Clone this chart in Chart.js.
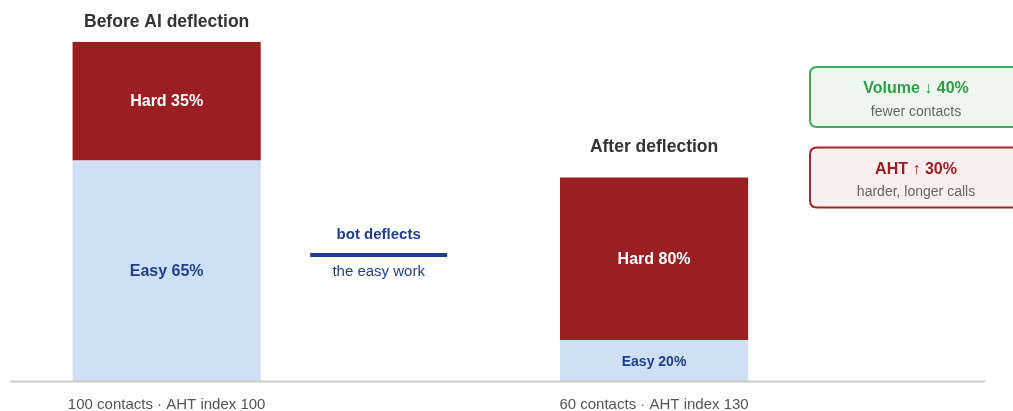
<!DOCTYPE html>
<html>
<head>
<meta charset="utf-8">
<script src="https://cdn.jsdelivr.net/npm/chart.js@4/dist/chart.umd.min.js"></script>
<style>
  html, body { margin: 0; padding: 0; background: #ffffff; }
  #wrap { width: 1013px; height: 411px; position: relative; }
</style>
</head>
<body>
<div id="wrap"><canvas id="chart"></canvas></div>
<script>
// Contact mix before and after the bot takes over the easy work
const stages = ['Before AI deflection', '', 'After deflection'];
const stageNotes = ['100 contacts · AHT index 100', '', '60 contacts · AHT index 130'];
const easyContacts = [65, null, 12];
const hardContacts = [35, null, 48];
const segmentNames = ['Easy', 'Hard'];

const bridgeTitle = 'bot deflects';
const bridgeNote = 'the easy work';
const callouts = [
  { title: 'Volume ↓ 40%', note: 'fewer contacts', kind: 'good' },
  { title: 'AHT ↑ 30%', note: 'harder, longer calls', kind: 'bad' }
];

const FONT = '"Liberation Sans", Arial, Helvetica, sans-serif';
const COLORS = {
  easy: '#cfe0f4',
  hard: '#9b1e23',
  easyText: '#1f3f8c',
  hardText: '#ffffff',
  title: '#333333',
  note: '#555555',
  axis: '#cccccc',
  good: { text: '#2e9e45', border: '#3fae52', fill: '#eef7ef' },
  bad: { text: '#9b1e23', border: '#a3272c', fill: '#fbeeee' },
  sub: '#666666'
};

function roundRect(ctx, x, y, w, h, r) {
  ctx.beginPath();
  ctx.moveTo(x + r, y);
  ctx.lineTo(x + w - r, y);
  ctx.quadraticCurveTo(x + w, y, x + w, y + r);
  ctx.lineTo(x + w, y + h - r);
  ctx.quadraticCurveTo(x + w, y + h, x + w - r, y + h);
  ctx.lineTo(x + r, y + h);
  ctx.quadraticCurveTo(x, y + h, x, y + h - r);
  ctx.lineTo(x, y + r);
  ctx.quadraticCurveTo(x, y, x + r, y);
  ctx.closePath();
}

// Segment labels, stage titles, baseline, bridge text and callout boxes
const decorations = {
  id: 'decorations',
  afterDatasetsDraw(chart) {
    const ctx = chart.ctx;
    const xs = chart.scales.x;
    const ys = chart.scales.y;
    const area = chart.chartArea;
    ctx.save();
    ctx.textAlign = 'center';
    ctx.textBaseline = 'middle';

    // labels inside each stacked segment, share of the bar total
    chart.data.datasets.forEach((ds, di) => {
      const meta = chart.getDatasetMeta(di);
      meta.data.forEach((bar, i) => {
        const v = ds.data[i];
        if (v == null) return;
        const total = (easyContacts[i] || 0) + (hardContacts[i] || 0);
        const share = Math.round(v / total * 100);
        const h = Math.abs(bar.base - bar.y);
        const size = h < 60 ? 14 : 16;
        ctx.font = 'bold ' + size + 'px ' + FONT;
        ctx.fillStyle = di === 0 ? COLORS.easyText : COLORS.hardText;
        ctx.fillText(segmentNames[di] + ' ' + share + '%', bar.x, (bar.y + bar.base) / 2 + 1);
      });
    });

    // stage titles above bars and notes under the baseline
    const topMeta = chart.getDatasetMeta(1);
    const titleGap = [20, 30];
    let t = 0;
    stages.forEach((name, i) => {
      if (!name) return;
      const bar = topMeta.data[i];
      ctx.font = 'bold 17.5px ' + FONT;
      ctx.fillStyle = COLORS.title;
      ctx.fillText(name, bar.x, bar.y - titleGap[t++]);
      ctx.font = '15px ' + FONT;
      ctx.fillStyle = COLORS.note;
      ctx.fillText(stageNotes[i], bar.x, area.bottom + 24);
    });

    // baseline
    ctx.strokeStyle = COLORS.axis;
    ctx.lineWidth = 2;
    ctx.beginPath();
    ctx.moveTo(10, area.bottom + 0.5);
    ctx.lineTo(985, area.bottom + 0.5);
    ctx.stroke();

    // bridge between the two bars
    const bx = xs.getPixelForValue(0.87);
    const by = ys.getPixelForValue(37.1);
    ctx.strokeStyle = COLORS.easyText;
    ctx.lineWidth = 4;
    ctx.beginPath();
    ctx.moveTo(bx - 68.5, by);
    ctx.lineTo(bx + 68.5, by);
    ctx.stroke();
    ctx.fillStyle = COLORS.easyText;
    ctx.font = 'bold 15px ' + FONT;
    ctx.fillText(bridgeTitle, bx, by - 20);
    ctx.font = '15px ' + FONT;
    ctx.fillText(bridgeNote, bx, by + 17);

    // callout boxes on the right
    callouts.forEach((c, k) => {
      const pal = COLORS[c.kind];
      const x = 810, y = 67 + k * 80.5, w = 212, h = 60;
      roundRect(ctx, x, y, w, h, 7);
      ctx.fillStyle = pal.fill;
      ctx.fill();
      ctx.lineWidth = 2;
      ctx.strokeStyle = pal.border;
      ctx.stroke();
      ctx.fillStyle = pal.text;
      ctx.font = 'bold 16px ' + FONT;
      ctx.fillText(c.title, x + 106, y + 22);
      ctx.fillStyle = COLORS.sub;
      ctx.font = '14px ' + FONT;
      ctx.fillText(c.note, x + 106, y + 45);
    });

    ctx.restore();
  }
};

new Chart(document.getElementById('chart'), {
  type: 'bar',
  data: {
    labels: stages,
    datasets: [
      { label: segmentNames[0], data: easyContacts, backgroundColor: COLORS.easy, borderWidth: 0 },
      { label: segmentNames[1], data: hardContacts, backgroundColor: COLORS.hard, borderWidth: 0 }
    ]
  },
  options: {
    responsive: true,
    maintainAspectRatio: false,
    animation: false,
    layout: { padding: { left: 44.8, right: 237.1, top: 41.7, bottom: 30 } },
    datasets: { bar: { categoryPercentage: 1, barPercentage: 0.772 } },
    scales: {
      x: { stacked: true, display: false },
      y: { stacked: true, display: false, min: 0, max: 100 }
    },
    plugins: {
      legend: { display: false },
      tooltip: { enabled: false }
    }
  },
  plugins: [decorations]
});
</script>
</body>
</html>
